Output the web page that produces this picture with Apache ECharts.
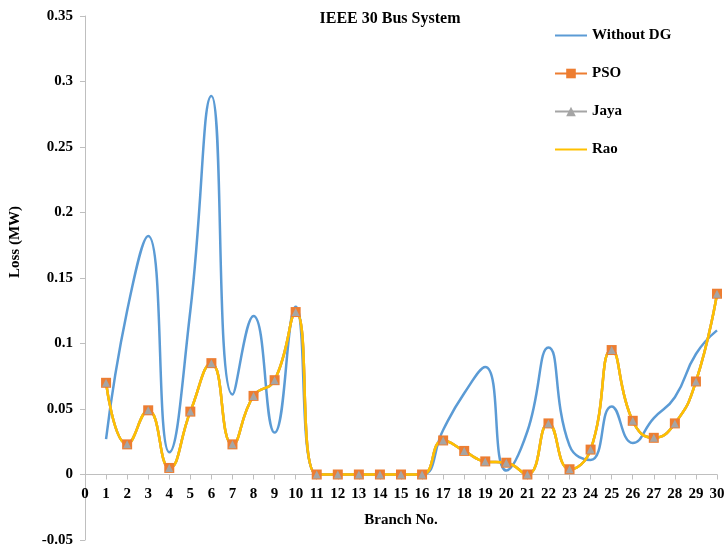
<!DOCTYPE html>
<html>
<head>
<meta charset="utf-8">
<script src="https://cdn.jsdelivr.net/npm/echarts@6/dist/echarts.min.js"></script>
<style>html,body{margin:0;padding:0;background:#fff}#c{width:728px;height:548px}</style>
</head>
<body>
<div id="c"></div>
<script>
const branches = [1,2,3,4,5,6,7,8,9,10,11,12,13,14,15,16,17,18,19,20,21,22,23,24,25,26,27,28,29,30];
const withoutDG = [0.027,0.125,0.182,0.017,0.125,0.289,0.061,0.121,0.032,0.128,0,0,0,0,0,0,0.034,0.062,0.082,0.003,0.033,0.097,0.022,0.011,0.052,0.024,0.043,0.059,0.092,0.11];
const pso = [0.07,0.023,0.049,0.005,0.048,0.085,0.023,0.06,0.072,0.124,0,0,0,0,0,0,0.026,0.018,0.01,0.009,0,0.039,0.004,0.019,0.095,0.041,0.028,0.039,0.071,0.138];
const jaya = [0.07,0.023,0.049,0.005,0.048,0.085,0.023,0.06,0.072,0.124,0,0,0,0,0,0,0.026,0.018,0.01,0.009,0,0.039,0.004,0.019,0.095,0.041,0.028,0.039,0.071,0.138];
const rao = [0.07,0.023,0.049,0.005,0.048,0.085,0.023,0.06,0.072,0.124,0,0,0,0,0,0,0.026,0.018,0.01,0.009,0,0.039,0.004,0.019,0.095,0.041,0.028,0.039,0.071,0.138];

const pairs = arr => branches.map((b, i) => [b, arr[i]]);
const font = '"Liberation Serif", "Times New Roman", serif';

const chart = echarts.init(document.getElementById('c'));
chart.setOption({
  animation: false,
  textStyle: { fontFamily: font },
  title: {
    text: 'IEEE 30 Bus System',
    left: 385, top: 6, textAlign: 'center',
    textStyle: { fontFamily: font, fontWeight: 'bold', fontSize: 16, color: '#000' }
  },
  legend: {
    orient: 'vertical', left: 549, top: 23, itemGap: 23,
    itemWidth: 32, itemHeight: 12,
    textStyle: { fontFamily: font, fontWeight: 'bold', fontSize: 15, color: '#000' },
    data: [
      { name: 'Without DG', itemStyle: { opacity: 0 } },
      'PSO', 'Jaya',
      { name: 'Rao', itemStyle: { opacity: 0 } }
    ]
  },
  grid: { left: 85, right: 11, top: 16, bottom: 8, outerBoundsMode: 'none' },
  xAxis: {
    type: 'value', min: 0, max: 30, interval: 1,
    name: 'Branch No.', nameLocation: 'middle', nameGap: -27,
    nameTextStyle: { fontFamily: font, fontWeight: 'bold', fontSize: 15, color: '#000' },
    axisLine: { onZero: true, lineStyle: { color: '#BFBFBF', width: 1 } },
    axisTick: { show: true, length: 5, lineStyle: { color: '#BFBFBF' } },
    axisLabel: { fontFamily: font, fontWeight: 'bold', fontSize: 15, color: '#000', margin: -53 },
    splitLine: { show: false }
  },
  yAxis: {
    type: 'value', min: -0.05, max: 0.35, interval: 0.05,
    name: 'Loss (MW)', nameLocation: 'middle', nameGap: 62,
    nameTextStyle: { fontFamily: font, fontWeight: 'bold', fontSize: 15, color: '#000', padding: [0, 0, 0, 72] },
    axisLine: { show: true, lineStyle: { color: '#BFBFBF', width: 1 } },
    axisTick: { show: true, length: 5, lineStyle: { color: '#BFBFBF' } },
    axisLabel: { fontFamily: font, fontWeight: 'bold', fontSize: 15, color: '#000', margin: 12,
      formatter: v => String(+v.toFixed(2)) },
    splitLine: { show: false }
  },
  series: [
    { name: 'Without DG', type: 'line', smooth: 0.5, data: pairs(withoutDG), showSymbol: false, symbol: 'none',
      lineStyle: { color: '#5B9BD5', width: 2.5 }, itemStyle: { color: '#5B9BD5' } },
    { name: 'PSO', type: 'line', smooth: 0.5, data: pairs(pso), symbol: 'rect', symbolSize: 10,
      lineStyle: { color: '#ED7D31', width: 2.5 }, itemStyle: { color: '#ED7D31' } },
    { name: 'Jaya', type: 'line', smooth: 0.5, data: pairs(jaya), symbol: 'triangle', symbolSize: 8,
      lineStyle: { color: '#A5A5A5', width: 2.5 }, itemStyle: { color: '#A5A5A5' } },
    { name: 'Rao', type: 'line', smooth: 0.5, data: pairs(rao), symbol: 'none',
      lineStyle: { color: '#FFC000', width: 2.5 }, itemStyle: { color: '#FFC000' } }
  ]
});
</script>
</body>
</html>
